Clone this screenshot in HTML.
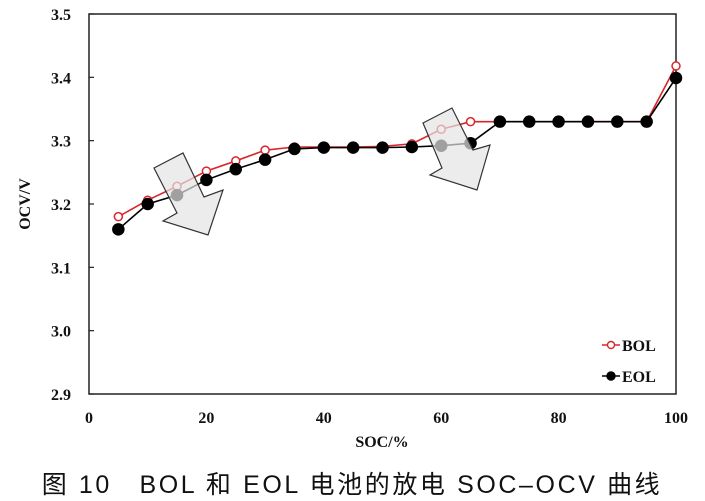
<!DOCTYPE html>
<html><head><meta charset="utf-8"><style>
body{margin:0;background:#fff;width:705px;height:501px;overflow:hidden}
svg{display:block}
.t{font-family:"Liberation Serif",serif;font-weight:bold;font-size:16px;fill:#111}
</style></head><body>
<svg id="chart" width="705" height="501">
<g id="plot"></g>
<text x="382" y="447" text-anchor="middle" class="t" font-size="16">SOC/%</text>
<text transform="translate(30,204) rotate(-90)" text-anchor="middle" class="t" font-size="16">OCV/V</text>
<text x="352" y="493" text-anchor="middle" font-family="'Liberation Sans','Noto Sans CJK SC',sans-serif" font-size="25" letter-spacing="2.6" fill="#111">图 10　BOL 和 EOL 电池的放电 SOC–OCV 曲线</text>
</svg>
<script>
const socValues=[5,10,15,20,25,30,35,40,45,50,55,60,65,70,75,80,85,90,95,100];
const bolValues=[3.18,3.206,3.228,3.252,3.268,3.285,3.29,3.29,3.29,3.291,3.295,3.318,3.33,3.33,3.33,3.33,3.33,3.33,3.33,3.418];
const eolValues=[3.16,3.2,3.214,3.238,3.255,3.27,3.287,3.289,3.289,3.289,3.29,3.292,3.296,3.33,3.33,3.33,3.33,3.33,3.33,3.399];
const xTicks=[0,20,40,60,80,100];
const yTicks=[2.9,3.0,3.1,3.2,3.3,3.4,3.5];
const X0=89,X1=676,Y0=394,Y1=14;
const xs=v=>X0+(v-0)/100*(X1-X0);
const ys=v=>Y0-(v-2.9)/0.6*(Y0-Y1);
const NS='http://www.w3.org/2000/svg';
const g=document.getElementById('plot');
function mk(tag,attrs,parent){const e=document.createElementNS(NS,tag);for(const k in attrs)e.setAttribute(k,attrs[k]);(parent||g).appendChild(e);return e;}
const frame=mk('rect',{x:X0,y:Y1,width:X1-X0,height:Y0-Y1,fill:'none',stroke:'#222','stroke-width':1.5});


yTicks.forEach(v=>{
 const l=mk('line',{x1:X0,x2:X0+5,y1:ys(v),y2:ys(v),stroke:'#222','stroke-width':1.2});
 
 
 const t=mk('text',{x:X0-18,y:ys(v)+6,'text-anchor':'end',class:'t'});t.textContent=v.toFixed(1);
 
 
});
xTicks.forEach(v=>{
 const t=mk('text',{x:xs(v),y:Y0+29,'text-anchor':'middle',class:'t'});t.textContent=v;
 
 
});
function series(vals,color,open,name){
 const grp=mk('g',{});
 
 
 const p=mk('polyline',{points:socValues.map((s,i)=>xs(s)+','+ys(vals[i])).join(' '),fill:'none',stroke:color,'stroke-width':1.6},grp);
 
 
 socValues.forEach((s,i)=>{
  const c=mk('circle',{cx:xs(s),cy:ys(vals[i]),r:open?4:5.5,fill:open?'#fff':color,stroke:color,'stroke-width':1.5},grp);
  
  
 });
}
series(bolValues,'#d9262b',true,'bol');
series(eolValues,'#000',false,'eol');
[[[154,168],[183,153],[204,197],[223,190],[208,235],[163,221],[177,213]],
 [[423,123],[452,108],[473,150],[490,145],[477,190],[430,175],[442,168]]].forEach((pts,i)=>{
 const a=mk('polygon',{points:pts.map(p=>p.join(',')).join(' '),fill:'#e4e4e4','fill-opacity':0.7,stroke:'#333','stroke-width':1.2});
 
 
});
[['BOL','#d9262b',true,345],['EOL','#000',false,376]].forEach(([n,c,o,y])=>{
 const lg=mk('g',{});
 
 
 mk('line',{x1:602,x2:620,y1:y,y2:y,stroke:c,'stroke-width':1.6},lg);
 mk('circle',{cx:611,cy:y,r:o?3.5:4,fill:o?'#fff':c,stroke:c,'stroke-width':1.4},lg);
 const t=mk('text',{x:622,y:y+6,class:'t','font-size':17},lg);t.textContent=n;
});
</script>
</body></html>
